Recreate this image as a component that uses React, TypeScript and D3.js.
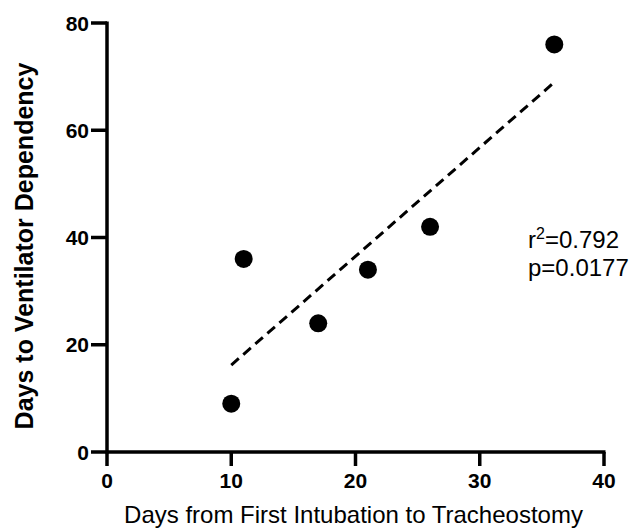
import React from "react";
import * as d3 from "d3";

// days from first intubation to tracheostomy
const daysToTrach = [10, 11, 17, 21, 26, 36];
// days to ventilator dependency
const daysVent = [9, 36, 24, 34, 42, 76];
const xTicks = [0, 10, 20, 30, 40];
const yTicks = [0, 20, 40, 60, 80];
const statLines = ["=0.792", "p=0.0177"];

const App = () => {
  const width = 631;
  const height = 528;
  const margin = { top: 23, right: 27, bottom: 76, left: 107 };

  const x = d3.scaleLinear().domain([0, 40]).range([margin.left, width - margin.right]);
  const y = d3.scaleLinear().domain([0, 80]).range([height - margin.bottom, margin.top]);

  // least squares fit
  const mx = d3.mean(daysToTrach);
  const my = d3.mean(daysVent);
  const sxy = d3.sum(daysToTrach, (d, i) => (d - mx) * (daysVent[i] - my));
  const sxx = d3.sum(daysToTrach, (d) => (d - mx) ** 2);
  const slope = sxy / sxx;
  const icpt = my - slope * mx;
  const xExt = d3.extent(daysToTrach);
  const fitLine = d3
    .line()
    .x((d) => x(d))
    .y((d) => y(icpt + slope * d))(xExt);

  const font = "'Liberation Sans', Arial, sans-serif";
  const y0 = y(0);
  const x0 = x(0);

  return (
    <svg width={width} height={height} style={{ position: "absolute", left: 0, top: 0 }} fontFamily={font}>
      {/* axes */}
      <line x1={x0} x2={x(40) + 1.5} y1={y0} y2={y0} stroke="#000" strokeWidth={3.5} />
      <line x1={x0} x2={x0} y1={y(80) - 1.5} y2={y0 + 1.5} stroke="#000" strokeWidth={3.5} />
      {xTicks.map((t) => (
        <g key={"x" + t}>
          <line x1={x(t)} x2={x(t)} y1={y0} y2={y0 + 14} stroke="#000" strokeWidth={3.5} />
          <text x={x(t)} y={488} textAnchor="middle" fontWeight="bold" fontSize={21}>
            {t}
          </text>
        </g>
      ))}
      {yTicks.map((t) => (
        <g key={"y" + t}>
          <line x1={x0 - 16} x2={x0} y1={y(t)} y2={y(t)} stroke="#000" strokeWidth={3.5} />
          <text x={x0 - 18} y={y(t) + 7.5} textAnchor="end" fontWeight="bold" fontSize={21}>
            {t}
          </text>
        </g>
      ))}

      {/* fit */}
      <path d={fitLine} stroke="#000" strokeWidth={3} strokeDasharray="10 6" fill="none" />

      {/* points */}
      {daysToTrach.map((d, i) => (
        <circle key={i} cx={x(d)} cy={y(daysVent[i])} r={9} fill="#000" />
      ))}

      {/* stats */}
      <text x={528} y={248} fontSize={24}>
        r<tspan dy={-9} fontSize={16}>2</tspan>
        <tspan dy={9}>{statLines[0]}</tspan>
      </text>
      <text x={528} y={276} fontSize={24}>
        {statLines[1]}
      </text>

      {/* axis titles */}
      <text x={(127 + 580) / 2} y={523} textAnchor="middle" fontSize={24}>
        Days from First Intubation to Tracheostomy
      </text>
      <text
        transform={`translate(33, 246) rotate(-90)`}
        textAnchor="middle"
        fontWeight="bold"
        fontSize={25}
      >
        Days to Ventilator Dependency
      </text>
    </svg>
  );
};

export default App;
